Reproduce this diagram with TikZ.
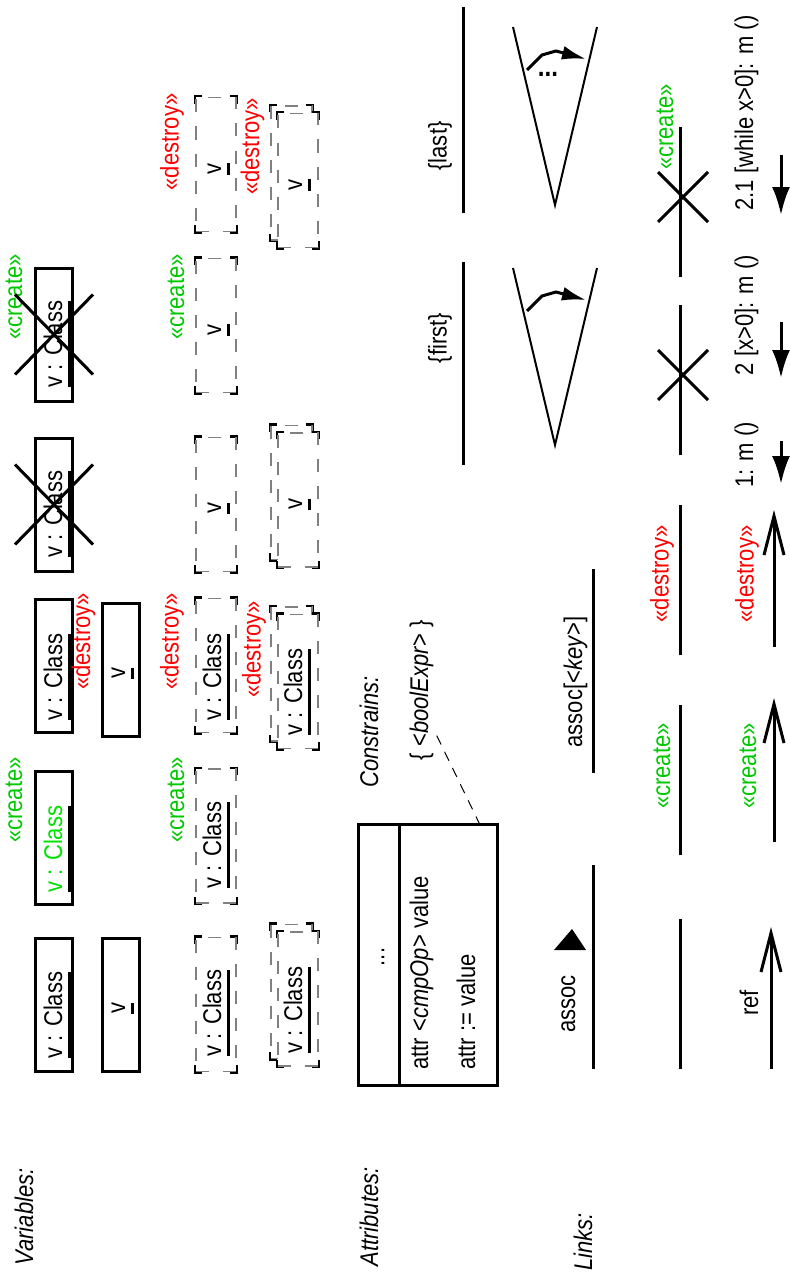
\documentclass[tikz,border=0pt]{standalone}
\usepackage{fontspec}
\setmainfont{Liberation Sans}[FakeStretch=0.86]
\usepackage{xcolor}
\usetikzlibrary{arrows.meta,positioning,calc}
\definecolor{createcol}{RGB}{0,200,0}
\definecolor{newobj}{RGB}{0,225,0}
\definecolor{destroycol}{RGB}{255,0,0}
\definecolor{dashgray}{RGB}{128,128,128}
\newcommand{\objname}[1]{\setbox0\hbox{#1}\rlap{\copy0}\raisebox{-4.25pt}{\color{black}\rule{\wd0}{1.5pt}}}

\begin{document}
\begin{tikzpicture}[x=0.5pt,y=-0.5pt,>=Latex,
  txt/.style={rotate=90,inner sep=0pt,font=\fontsize{12.8}{15}\selectfont},
  head/.style={txt,anchor=base,font=\fontsize{12.8}{15}\selectfont\itshape},
  vname/.style={txt,anchor=base},
  create/.style={txt,text=createcol},
  destroy/.style={txt,text=destroycol},
  objbox/.style={draw,line width=1.5pt,minimum width=18.5pt,minimum height=66.5pt,inner sep=0pt},
  corners/.style={append after command={\pgfextra{\let\cornnode\tikzlastnode
    \draw[black,solid,line width=1.5pt]
      ([yshift=-3.5pt]\cornnode.north west) |- ([xshift=3.5pt]\cornnode.north west)
      ([xshift=-3.5pt]\cornnode.north east) -| ([yshift=-3.5pt]\cornnode.north east)
      ([yshift=3.5pt]\cornnode.south east) |- ([xshift=-3.5pt]\cornnode.south east)
      ([xshift=3.5pt]\cornnode.south west) -| ([yshift=3.5pt]\cornnode.south west);}}},
  varbox/.style={draw=dashgray,line width=0.9pt,dash pattern=on 6.5pt off 7pt,minimum width=20pt,minimum height=67pt,inner sep=0pt,fill=white,corners},
  link/.style={line width=1.5pt},
  cross/.style={line width=1.5pt},
  note/.style={line width=0.5pt,dash pattern=on 5pt off 4pt},
  msg/.style={line width=1.5pt,-{Latex[length=14pt,width=9pt]}},
  ref/.style={link,-{Straight Barb[length=19.5pt,width=10pt]}}]
\useasboundingbox (0,0) rectangle (789,1279);

% headings
\node[head] (hvar) at (33,1217) {Variables:};
\node[head] (hattr) at (378,1217) {Attributes:};
\node[head] (hlink) at (592,1242) {Links:};

% objects, solid boxes
\node[objbox] (oA) at (54,1004.5) {};
\node[vname] (oA-t) at (62,1015) {\objname{v : Class}};
\node[objbox] (oA2) at (121,1004.5) {};
\node[vname] (oA2-t) at (125,1008) {\objname{v}};
\node[objbox] (oB) at (54,837.5) {};
\node[vname,text=newobj] (oB-t) at (62,849) {\objname{v : Class}};
\node[create] (oB-s) at (14,800) {«create»};
\node[objbox] (oC) at (54,665.5) {};
\node[vname] (oC-t) at (62,677) {\objname{v : Class}};
\node[objbox] (oC2) at (121,669.5) {};
\node[vname] (oC2-t) at (125,673) {\objname{v}};
\node[destroy] (oC-s) at (83.5,641.5) {«destroy»};
\node[objbox] (oD) at (54,504.5) {};
\node[vname] (oD-t) at (62,514) {\objname{v : Class}};
\draw[cross] ([shift={(-39,-40)}]oD.center) -- ([shift={(39,40)}]oD.center)
  ([shift={(-39,40)}]oD.center) -- ([shift={(39,-40)}]oD.center);
\node[objbox] (oE) at (54,334.5) {};
\node[vname] (oE-t) at (62,344) {\objname{v : Class}};
\node[create] (oE-s) at (14,297) {«create»};
\draw[cross] ([shift={(-39,-40)}]oE.center) -- ([shift={(39,40)}]oE.center)
  ([shift={(-39,40)}]oE.center) -- ([shift={(39,-40)}]oE.center);

% variables, dashed boxes
\node[varbox] (vA) at (216,1004.5) {};
\node[vname] (vA-t) at (221,1013) {\objname{v : Class}};
\node[varbox] (vB) at (216,836) {};
\node[vname] (vB-t) at (221,845) {\objname{v : Class}};
\node[create] (vB-s) at (176,800) {«create»};
\node[varbox] (vC) at (216,665.5) {};
\node[vname] (vC-t) at (221,677) {\objname{v : Class}};
\node[destroy] (vC-s) at (172,641.5) {«destroy»};
\node[varbox] (vD) at (216,504.5) {};
\node[vname] (vD-t) at (221,508) {\objname{v}};
\node[varbox] (vE) at (216,325.5) {};
\node[vname] (vE-t) at (221,330) {\objname{v}};
\node[create] (vE-s) at (176,297) {«create»};
\node[varbox] (vF) at (216,164.5) {};
\node[vname] (vF-t) at (221,169) {\objname{v}};
\node[destroy] (vF-s) at (172,142) {«destroy»};

% sets, stacked dashed boxes
\node[varbox,minimum width=20.5pt] (sA-b) at (291.5,991.5) {};
\node[varbox] (sA) at ([shift={(6.5,7.5)}]sA-b.center) {};
\node[vname] (sA-t) at (302,1010) {\objname{v : Class}};
\node[varbox,minimum width=20.5pt] (sB-b) at (291.5,674) {};
\node[varbox] (sB) at ([shift={(6.5,7.5)}]sB-b.center) {};
\node[vname] (sB-t) at (302,692) {\objname{v : Class}};
\node[destroy] (sB-s) at (254,649.5) {«destroy»};
\node[varbox,minimum width=20.5pt] (sC-b) at (291.5,492.5) {};
\node[varbox] (sC) at ([shift={(6.5,7.5)}]sC-b.center) {};
\node[vname] (sC-t) at (302,504) {\objname{v}};
\node[varbox,minimum width=20.5pt] (sD-b) at (291.5,173) {};
\node[varbox] (sD) at ([shift={(6.5,7.5)}]sD-b.center) {};
\node[vname] (sD-t) at (302,185) {\objname{v}};
\node[destroy] (sD-s) at (252.5,146.5) {«destroy»};

% attributes and constraints
\node[draw,line width=1.5pt,minimum width=69.5pt,minimum height=130.5pt,inner sep=0pt] (cls) at (428,955) {};
\draw[line width=1.5pt] ([xshift=21pt]cls.north west) -- ([xshift=21pt]cls.south west);
\node[txt] (cls-dots) at (383,957) {...};
\node[txt,anchor=base west] (cls-a1) at (428,1070) {attr <\textit{cmpOp}> value};
\node[txt,anchor=base west] (cls-a2) at (475,1070) {attr := value};
\node[head] (hcons) at (378,732) {Constrains:};
\node[txt,anchor=base] (cons) at (428,690) {\{ <\textit{boolExpr}> \}};
\draw[note] ($(cons.south west)+(3,-25)$) -- ($(cls.north west)!0.86!(cls.north east)$);

% links
\coordinate (assoc-s) at (593,1069);
\coordinate (assoc-e) at (593,865);
\draw[link] (assoc-s) -- (assoc-e);
\node[txt,anchor=base] (assoc) at (575,1004) {assoc};
\fill (572,929) -- (554,950) -- (586,950) -- cycle;
\coordinate (key-s) at (593,773);
\coordinate (key-e) at (593,569);
\draw[link] (key-s) -- (key-e);
\node[txt,anchor=base] (key) at (582,682) {assoc[<\textit{key}>]};
\coordinate (first-s) at (463,465);
\coordinate (first-e) at (463,262);
\draw[link] (first-s) -- (first-e);
\node[txt] (first) at (440,338) {\{first\}};
\coordinate (last-s) at (463,213);
\coordinate (last-e) at (463,7);
\draw[link] (last-s) -- (last-e);
\node[txt] (last) at (440,146) {\{last\}};

% ordered links
\draw[line width=1pt] (513,268) -- (555,445) -- (597,268);
\draw[line width=1.5pt,-{Latex[length=12pt,width=7pt]}] (527,311) -- (542,296) -- (556,292) -- (586,300);
\draw[line width=1pt] (513,27) -- (555,205) -- (597,27);
\draw[line width=1.5pt,-{Latex[length=12pt,width=7pt]}] (527,70) -- (542,55) -- (556,51) -- (586,59);
\node[inner sep=0pt,anchor=base,font=\fontsize{14}{16}\selectfont\bfseries] (more) at (548,76) {...};

% created and destroyed links
\coordinate (ln1-s) at (680,277);
\coordinate (ln1-e) at (680,127);
\draw[link] (ln1-s) -- (ln1-e);
\draw[cross] (658,172) -- (708,222) (658,222) -- (708,172);
\node[create] (ln1-l) at (665,127) {«create»};
\coordinate (ln2-s) at (680,455);
\coordinate (ln2-e) at (680,305);
\draw[link] (ln2-s) -- (ln2-e);
\draw[cross] (658,350) -- (708,400) (658,400) -- (708,350);
\coordinate (ln3-s) at (680,655);
\coordinate (ln3-e) at (680,505);
\draw[link] (ln3-s) -- (ln3-e);
\node[destroy] (ln3-l) at (662,574) {«destroy»};
\coordinate (ln4-s) at (680,855);
\coordinate (ln4-e) at (680,705);
\draw[link] (ln4-s) -- (ln4-e);
\node[create] (ln4-l) at (662,766) {«create»};
\coordinate (ln5-s) at (680,1069);
\coordinate (ln5-e) at (680,919);
\draw[link] (ln5-s) -- (ln5-e);

% references and messages
\coordinate (ref1-s) at (771,1069);
\coordinate (ref1-e) at (771,927);
\draw[ref] (ref1-s) -- (ref1-e);
\node[txt,anchor=base] (ref1-l) at (758,1003) {ref};
\coordinate (ref2-s) at (774,842);
\coordinate (ref2-e) at (774,698);
\draw[ref] (ref2-s) -- (ref2-e);
\node[create] (ref2-l) at (748,766) {«create»};
\coordinate (ref3-s) at (774,647);
\coordinate (ref3-e) at (774,510);
\draw[ref] (ref3-s) -- (ref3-e);
\node[destroy] (ref3-l) at (747,574) {«destroy»};
\coordinate (msg1-s) at (781,441);
\coordinate (msg1-e) at (781,484);
\draw[msg] (msg1-s) -- (msg1-e);
\node[txt,anchor=base] (msg1) at (753,455) {1: m ()};
\coordinate (msg2-s) at (781,322);
\coordinate (msg2-e) at (781,378);
\draw[msg] (msg2-s) -- (msg2-e);
\node[txt,anchor=base] (msg2) at (753,315) {2 [x>0]: m ()};
\coordinate (msg3-s) at (781,155);
\coordinate (msg3-e) at (781,215);
\draw[msg] (msg3-s) -- (msg3-e);
\node[txt,anchor=base] (msg3) at (753,113) {2.1 [while x>0]: m ()};
\end{tikzpicture}
\end{document}
